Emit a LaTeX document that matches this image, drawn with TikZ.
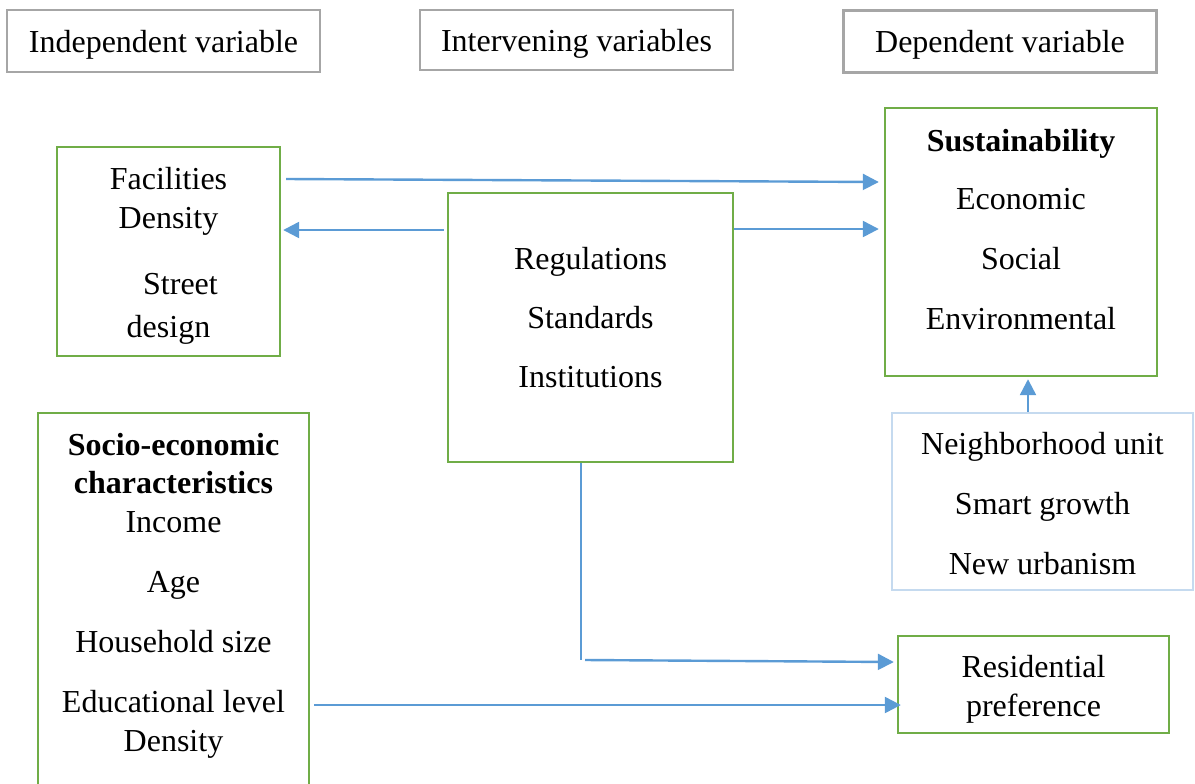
\documentclass[tikz,border=0pt]{standalone}
\usepackage{fontspec}
\setmainfont{Liberation Serif}
\usetikzlibrary{calc}
\usetikzlibrary{arrows.meta}

\definecolor{boxgreen}{HTML}{70AD47}
\definecolor{arrowblue}{HTML}{5B9BD5}
\definecolor{headgray}{HTML}{A6A6A6}
\definecolor{paleblue}{HTML}{C5DAEF}

\begin{document}
\begin{tikzpicture}[x=0.5pt, y=-0.5pt,
font=\fontsize{16}{19.5}\selectfont,
head/.style={draw=headgray, line width=1.4pt, minimum width=156.5pt, minimum height=31pt, inner sep=0pt, text height=11pt, text depth=0pt},
box/.style={draw=boxgreen, line width=1.2pt, inner sep=0pt},
txt/.style={align=center, inner sep=0pt},
flow/.style={draw=arrowblue, line width=1.2pt, -{Triangle[length=8pt,width=8pt]}}]
\useasboundingbox (0,0) rectangle (1195,783);
\clip (0,0) rectangle (1195,783);

\node[head] (indep) at (163.5,41) {Independent variable};
\node[head, minimum height=30pt] (interv) at (576.5,40) {Intervening variables};
\node[head] (dep) at (1000,41.5) {Dependent variable};

\node[box, minimum width=111.5pt, minimum height=104.5pt] (fac) at (168.5,251.5) {};
\node[txt] (factext) at (168.5,255.5) {Facilities\\Density\\[13.5pt]\hspace*{12pt}Street\\[2pt]design};

\node[box, minimum width=142.5pt, minimum height=134.5pt] (reg) at (590.5,327.5) {};
\node[txt] (regtext) at (590.5,318) {Regulations\\[10pt]Standards\\[10pt]Institutions};

\node[box, minimum width=136pt, minimum height=134pt] (sus) at (1021,242) {};
\node[txt] (sustext) at (1021,230)
	{\textbf{Sustainability}\\[9.5pt]Economic\\[10.5pt]Social\\[10.5pt]Environmental};

\node[box, minimum width=135.5pt, minimum height=193.5pt] (socio) at (173.5,606.5) {};
\node[txt] (sociotext) at (173.5,595.5)
	{\textbf{Socio-economic}\\[-0.5pt]\textbf{characteristics}\\Income\\[10.5pt]Age\\[10.5pt]Household size\\[10.5pt]Educational level\\Density};

\node[box, minimum width=135.5pt, minimum height=48.5pt] (res) at (1033.5,684.5) {};
\node[txt] (restext) at (1033.5,689.5) {Residential\\preference};

\node[box, draw=paleblue, minimum width=150.5pt, minimum height=88.5pt] (nbh) at (1042.5,501.5) {};
\node[txt] (nbhtext) at (1042.5,503.5) {Neighborhood unit\\[10.5pt]Smart growth\\[10.5pt]New urbanism};

\draw[flow] ($(fac.east)+(5,-72.5)$) -- ($(sus.west)+(-5,-60)$);
\draw[flow] ($(reg.west)+(-3,-97.5)$) -- ($(fac.east)+(2,-21.5)$);
\draw[flow] ($(reg.east)+(0,-98.5)$) -- ($(sus.west)+(-5,-13)$);
\draw[flow] ($(nbh.north)+(-14.5,0)$) coordinate (up) -- ($(up |- sus.south)+(0,2)$);

\coordinate (elbow) at (581,660);
\draw[draw=arrowblue, line width=0.7pt] (reg.south -| elbow) -- (elbow);
\draw[flow] ($(elbow)+(4,0)$) -- ($(res.west)+(-3,-22.5)$);
\draw[flow] ($(socio.east)+(4,98.5)$) -- ($(res.west)+(4,20.5)$);
\end{tikzpicture}
\end{document}
